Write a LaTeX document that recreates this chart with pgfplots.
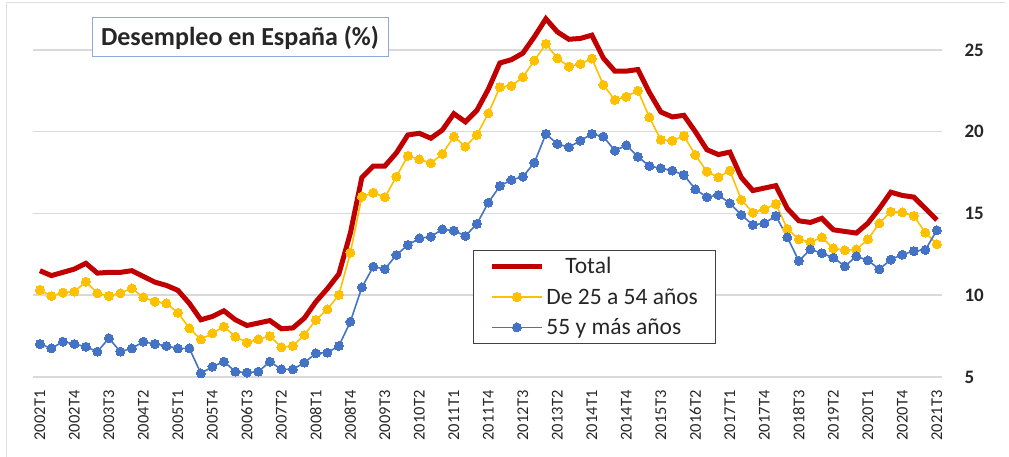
\documentclass[border=0pt]{standalone}
\usepackage{fontspec}
\setmainfont{Carlito}
\usepackage{pgfplots}
\pgfplotsset{compat=1.18}
\usepackage{pgfplotstable}
\definecolor{cred}{HTML}{C00000}
\definecolor{cyel}{HTML}{FFC000}
\definecolor{cblue}{HTML}{4472C4}
\definecolor{cgrid}{HTML}{D9D9D9}
\definecolor{ctitle}{HTML}{8EAADB}

\pgfplotstableread{
i tot a b
0 11.5 10.32 7.02
1 11.2 9.95 6.75
2 11.4 10.16 7.16
3 11.6 10.22 7.02
4 11.95 10.83 6.85
5 11.35 10.12 6.55
6 11.4 9.95 7.37
7 11.4 10.12 6.55
8 11.5 10.42 6.75
9 11.15 9.87 7.16
10 10.8 9.61 7.02
11 10.6 9.5 6.9
12 10.3 8.93 6.75
13 9.5 7.98 6.75
14 8.5 7.3 5.22
15 8.7 7.67 5.63
16 9.05 8.08 5.94
17 8.5 7.47 5.33
18 8.15 7.1 5.27
19 8.3 7.3 5.33
20 8.45 7.5 5.94
21 7.95 6.82 5.47
22 8.0 6.9 5.47
23 8.6 7.57 5.88
24 9.6 8.49 6.45
25 10.4 9.14 6.49
26 11.3 10.02 6.9
27 13.8 12.6 8.38
28 17.2 16.03 10.48
29 17.9 16.27 11.75
30 17.9 15.99 11.6
31 18.7 17.25 12.46
32 19.8 18.52 13.07
33 19.9 18.31 13.48
34 19.6 18.07 13.58
35 20.1 18.64 14.03
36 21.1 19.7 13.95
37 20.6 19.09 13.62
38 21.3 19.8 14.36
39 22.6 21.13 15.66
40 24.2 22.72 16.68
41 24.4 22.8 17.05
42 24.8 23.33 17.25
43 25.8 24.35 18.1
44 26.9 25.37 19.86
45 26.1 24.49 19.25
46 25.65 23.98 19.05
47 25.7 24.14 19.45
48 25.9 24.47 19.86
49 24.5 22.86 19.7
50 23.7 21.94 18.84
51 23.7 22.14 19.17
52 23.8 22.51 18.47
53 22.4 20.88 17.9
54 21.2 19.5 17.76
55 20.9 19.45 17.62
56 21.0 19.74 17.35
57 20.0 18.58 16.48
58 18.9 17.56 15.99
59 18.6 17.21 16.13
60 18.75 17.62 15.62
61 17.2 15.83 14.91
62 16.4 15.05 14.3
63 16.55 15.26 14.4
64 16.7 15.58 14.85
65 15.3 14.06 13.54
66 14.55 13.42 12.1
67 14.45 13.25 12.8
68 14.7 13.53 12.57
69 14.0 12.87 12.3
70 13.9 12.75 11.77
71 13.8 12.8 12.38
72 14.4 13.42 12.13
73 15.3 14.4 11.59
74 16.3 15.11 12.18
75 16.1 15.07 12.48
76 16.0 14.85 12.7
77 15.3 13.83 12.77
78 14.6 13.12 13.97
}\datatab

\begin{document}
\begin{tikzpicture}
\path[use as bounding box] (0,0) rectangle (1009pt,-457pt);
\draw[black!12, line width=1pt] (6pt,-457pt) -- (6pt,-3pt) -- (1005pt,-3pt);
\begin{axis}[
  at={(33pt,-377pt)}, anchor=south west,
  scale only axis, width=909pt, height=368pt,
  xmin=-0.6, xmax=78.45, ymin=5, ymax=27.5,
  axis line style={draw=none},
  major tick length=0pt,
  ymajorgrids, grid style={cgrid, line width=1.5pt},
  ytick={5,10,15,20,25},
  yticklabels={5,10,15,20,25},
  yticklabel pos=right,
  y tick label style={font=\fontsize{19}{19}\selectfont\bfseries, anchor=west, xshift=19pt, text=black!85},
  xtick={0,3,...,78},
  xticklabels={2002T1,2002T4,2003T3,2004T2,2005T1,2005T4,2006T3,2007T2,2008T1,2008T4,2009T3,2010T2,2011T1,2011T4,2012T3,2013T2,2014T1,2014T4,2015T3,2016T2,2017T1,2017T4,2018T3,2019T2,2020T1,2020T4,2021T3},
  xticklabel shift=10pt,
  x tick label style={rotate=90, anchor=east, font=\fontsize{16.5}{16.5}\selectfont, text=black!85},
  legend style={at={(0.484,0.345)}, anchor=north west, font=\fontsize{23.5}{23.5}\selectfont,
    draw=black!75, line width=1pt, inner xsep=16pt, inner ysep=5pt, row sep=9pt,
    cells={anchor=west}, text=black!85},
  legend image code/.code={\draw[mark repeat=2,mark phase=2,#1] plot coordinates {(0pt,0pt) (25pt,0pt) (50pt,0pt)};},
]
\addplot[cred, line width=5pt, no markers] table[x=i, y=tot] {\datatab};
\addlegendentry{\hspace*{19pt}Total}
\addplot[cyel, line width=1.6pt, mark=*, mark size=4.5pt, mark options={line width=0pt}] table[x=i, y=a] {\datatab};
\addlegendentry{De 25 a 54 años}
\addplot[cblue, line width=1.6pt, mark=*, mark size=4.5pt, mark options={line width=0pt}] table[x=i, y=b] {\datatab};
\addlegendentry{55 y más años}
\end{axis}
\node[draw=ctitle, line width=1pt, fill=white, font=\fontsize{26}{26}\selectfont\bfseries, text=black!85,
  minimum width=296pt, minimum height=39pt, inner sep=0pt] at (240pt,-37.5pt) {Desempleo en España (\%)};
\end{tikzpicture}
\end{document}
